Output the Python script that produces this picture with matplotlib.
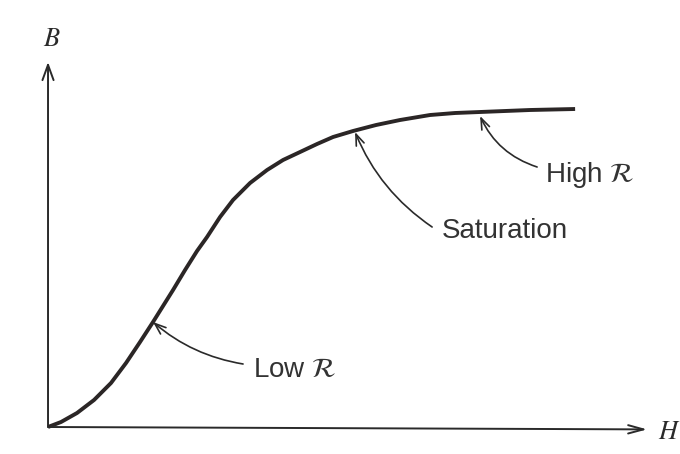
import matplotlib
matplotlib.use("Agg")
import matplotlib.pyplot as plt

plt.rcParams['font.family'] = ['Liberation Sans', 'DejaVu Sans']
plt.rcParams['mathtext.fontset'] = 'stix'

# Magnetization curve (arbitrary units)
H = [0.0, 0.247, 0.550, 0.873, 1.195, 1.480, 1.746, 1.992, 2.182, 2.372,
     2.600, 2.827, 3.017, 3.264, 3.510, 3.833, 4.156, 4.459, 4.782, 5.104,
     5.408, 5.787, 6.224, 6.679, 7.249, 7.723, 8.197, 9.146, 10.0]
B = [0.0, 0.025, 0.070, 0.135, 0.220, 0.320, 0.425, 0.525, 0.605, 0.685,
     0.785, 0.880, 0.950, 1.050, 1.135, 1.220, 1.285, 1.335, 1.375, 1.415,
     1.450, 1.480, 1.510, 1.535, 1.560, 1.570, 1.575, 1.585, 1.590]

labels = ["Low $\\mathcal{R}$", "Saturation", "High $\\mathcal{R}$"]
tips = [(1.992, 0.525), (5.825, 1.475), (8.197, 1.555)]
tails = [(3.700, 0.315), (7.287, 1.0), (9.279, 1.30)]
text_pos = [(3.890, 0.25), (7.476, 0.945), (9.431, 1.225)]
rads = [-0.14, -0.15, -0.22]

fig = plt.figure(figsize=(6.8, 4.54), dpi=100)
ax = fig.add_axes([0, 0, 1, 1])
ax.set_xlim(-0.911, 11.99)
ax.set_ylim(-0.135, 2.135)
ax.axis('off')

ink = '#2a2a2a'
# axes with arrows
ax.annotate('', xy=(0, 1.825), xytext=(0, 0),
            arrowprops=dict(arrowstyle='->,head_length=1.1,head_width=0.4',
                            lw=1.4, color=ink, shrinkA=0, shrinkB=0))
ax.annotate('', xy=(11.366, -0.012), xytext=(0, 0),
            arrowprops=dict(arrowstyle='->,head_length=1.1,head_width=0.3',
                            lw=1.4, color=ink, shrinkA=0, shrinkB=0))
ax.text(0.076, 1.94, '$B$', fontsize=19, ha='center', va='center', color=ink)
ax.text(11.78, -0.025, '$H$', fontsize=19, ha='center', va='center', color=ink)

ax.plot(H, B, color='#2b2626', lw=2.8, solid_capstyle='butt',
        solid_joinstyle='round')

for lab, tip, tail, tp, r in zip(labels, tips, tails, text_pos, rads):
    ax.annotate('', xy=tip, xytext=tail,
                arrowprops=dict(arrowstyle='->,head_length=0.8,head_width=0.3',
                                connectionstyle=f'arc3,rad={r}',
                                lw=1.2, color=ink, shrinkA=0, shrinkB=0))
    ax.text(tp[0], tp[1], lab, fontsize=20, ha='left', va='baseline', color='#333333')

fig.savefig('out.png', dpi=100, facecolor='white')
